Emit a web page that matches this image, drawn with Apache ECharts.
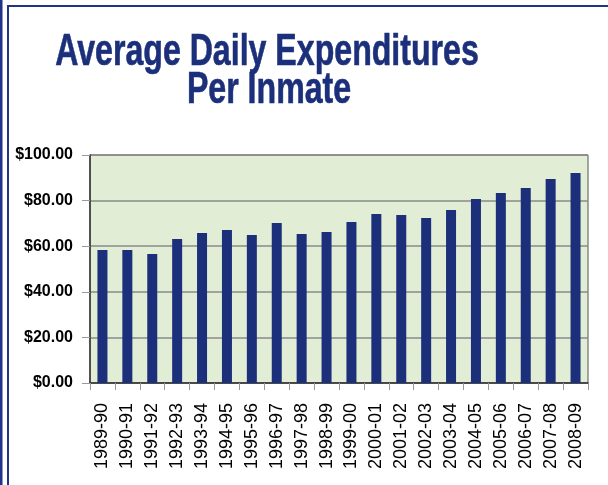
<!DOCTYPE html>
<html>
<head>
<meta charset="utf-8">
<script src="https://cdn.jsdelivr.net/npm/echarts@6/dist/echarts.min.js"></script>
<style>
html,body{margin:0;padding:0;background:#fff;}
#chart{width:608px;height:485px;}
</style>
</head>
<body>
<div id="chart"></div>
<script>
const titleLines = ["Average Daily Expenditures", "Per Inmate"];
const categories = ["1989-90","1990-91","1991-92","1992-93","1993-94","1994-95","1995-96","1996-97","1997-98","1998-99","1999-00","2000-01","2001-02","2002-03","2003-04","2004-05","2005-06","2006-07","2007-08","2008-09"];
const expenditures = [58.3,58.3,56.6,63.2,65.8,67.1,64.9,70.2,65.4,66.2,70.6,74.1,73.7,72.4,75.9,80.7,83.3,85.5,89.5,92.1];
const yTicks = [0,20,40,60,80,100];

const navy = '#1b2f7a';
const chart = echarts.init(document.getElementById('chart'), null, {renderer:'canvas'});
chart.setOption({
  animation:false,
  backgroundColor:'#ffffff',
  graphic:[
    {type:'rect', shape:{x:0,y:0,width:2.5,height:485}, style:{fill:'#1f3487'}},
    {type:'rect', shape:{x:7,y:5,width:2,height:480}, style:{fill:'#1f3487'}},
    {type:'rect', shape:{x:7,y:5,width:601,height:2}, style:{fill:'#1f3487'}},
    {type:'text', x:267, y:53, scaleX:0.73, style:{text:titleLines[0], fill:navy, stroke:navy, lineWidth:0.6, font:'bold 44px "Liberation Sans", Arial, sans-serif', align:'center', verticalAlign:'middle'}},
    {type:'text', x:269, y:91, scaleX:0.73, style:{text:titleLines[1], fill:navy, stroke:navy, lineWidth:0.6, font:'bold 44px "Liberation Sans", Arial, sans-serif', align:'center', verticalAlign:'middle'}}
  ],
  grid:{left:90, top:155, right:20, bottom:102, show:true, backgroundColor:'#e1edd5', borderColor:'#555', borderWidth:1},
  xAxis:{
    type:'category', data:categories,
    axisLine:{lineStyle:{color:'#333', width:1.5}},
    axisTick:{show:true, length:7, lineStyle:{color:'#999'}},
    axisLabel:{interval:0, rotate:90, margin:20, fontSize:18, color:'#000', fontFamily:'"Liberation Sans", Arial, sans-serif'}
  },
  yAxis:{
    type:'value', min:yTicks[0], max:yTicks[yTicks.length-1], interval:yTicks[1]-yTicks[0],
    axisLine:{show:true, lineStyle:{color:'#333', width:1.5}},
    axisTick:{show:true, length:8, lineStyle:{color:'#999'}},
    splitLine:{lineStyle:{color:'#8a8a8a', width:1.5}},
    axisLabel:{margin:17, fontSize:16, fontWeight:'bold', color:'#000', fontFamily:'"Liberation Sans", Arial, sans-serif', formatter:v=>'$'+v.toFixed(2)}
  },
  series:[{type:'bar', data:expenditures, barWidth:10, itemStyle:{color:navy}}]
});
</script>
</body>
</html>
